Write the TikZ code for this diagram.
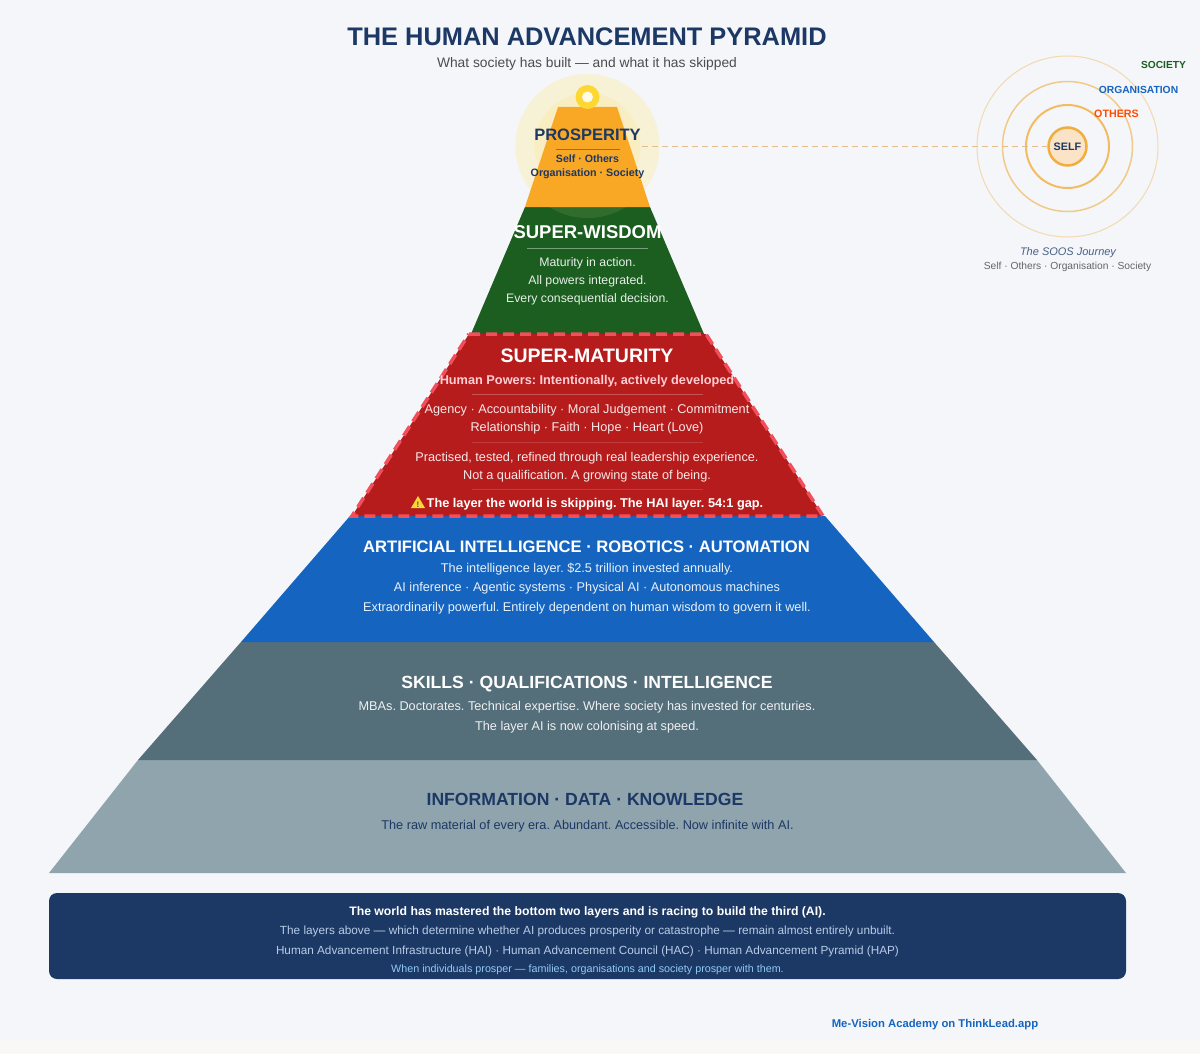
\documentclass[tikz,border=0pt]{standalone}
\usepackage{fontspec}
\setmainfont{Liberation Sans}
\frenchspacing
\definecolor{pagebg}{HTML}{F4F6FA}
\definecolor{stripbg}{HTML}{FAF8F5}
\definecolor{navy}{HTML}{1C3864}
\definecolor{amber}{HTML}{F9A825}
\definecolor{leaf}{HTML}{1B5E20}
\definecolor{crimson}{HTML}{B71C1C}
\definecolor{dashred}{HTML}{F24F5C}
\definecolor{azure}{HTML}{1565C0}
\definecolor{slate}{HTML}{546E7A}
\definecolor{mist}{HTML}{90A4AE}
\definecolor{halo}{HTML}{FFEB99}
\definecolor{sunc}{HTML}{FDD835}
\definecolor{ringc}{HTML}{F2AE3D}
\definecolor{selfc}{HTML}{FAE3C6}
\definecolor{beamc}{HTML}{E3BE8C}
\definecolor{panelb}{HTML}{B8CCE8}
\definecolor{paneld}{HTML}{90CAF9}
\definecolor{pinkc}{HTML}{FFCDD2}
\tikzset{%
  lbl/.style={anchor=base, inner sep=0pt, outer sep=0pt, font=\fontsize{#1}{#1}\selectfont},
  blbl/.style={anchor=base, inner sep=0pt, outer sep=0pt, font=\bfseries\fontsize{#1}{#1}\selectfont},
  rule line/.style={line width=0.8pt},
}

\begin{document}
\begin{tikzpicture}[x=1pt, y=-1pt]
\useasboundingbox (0,0) rectangle (1200,1054);
\fill[pagebg] (0,0) rectangle (1200,1054);
\fill[stripbg] (0,1040) rectangle (1200,1054);

% sun halo goes under the layers
\fill[halo, opacity=0.3] (587.5,146) circle (72);
\fill[halo, opacity=0.3] (587.5,146) circle (53);

% layers, bottom first
\foreach \col/\ya/\xa/\xb/\yb/\xc/\xd in {mist/760/138/1037/873/49/1126,
                                          slate/642/241/934/760/138/1037,
                                          azure/516/350/825/642/241/934,
                                          leaf/207/525/650/334/471/704}
    \fill[\col] (\xa,\ya) -- (\xb,\ya) -- (\xd,\yb) -- (\xc,\yb) -- cycle;
\fill[crimson] (469,334) -- (706,334) -- (823,516) -- (352,516) -- cycle;
\draw[dashred, line width=3.5pt, dash pattern=on 11pt off 6pt] (469,334) -- (706,334) -- (823,516) -- (352,516) -- cycle;

% sun
\fill[halo, opacity=0.1] (587.5,146) circle (72);
\fill[amber] (558,107) -- (617,107) -- (650,207) -- (525,207) -- cycle;
\fill[sunc] (587.5,97) circle (12);
\fill[white!90!sunc] (587.5,97) circle (5.5);

\node[blbl=25.4, text=navy] (title) at (587,46) {THE HUMAN ADVANCEMENT PYRAMID};
\node[lbl=13.8, text=black!70] (subtitle) at (587,68) {What society has built — and what it has skipped};

\node[blbl=16.5, text=navy] (prosperity) at (587.5,141) {PROSPERITY};
\draw[navy, rule line, opacity=0.5] (556,149) -- (620,149);
\node[blbl=10.6, text=navy] (prosp_a) at (587.5,163) {Self · Others};
\node[blbl=10.7, text=navy] (prosp_b) at (587.5,177) {Organisation · Society};

\node[blbl=18.5, text=white] (wisdom) at (587.5,238) {SUPER-WISDOM};
\draw[white, rule line, opacity=0.4] (527,248) -- (648,248);
\node[lbl=12.3, text=white!90!leaf] (wisdom_a) at (587.5,266) {Maturity in action.};
\node[lbl=12.3, text=white!90!leaf] (wisdom_b) at (587.5,284) {All powers integrated.};
\node[lbl=12.3, text=white!90!leaf] (wisdom_c) at (587.5,302) {Every consequential decision.};

\node[blbl=19.5, text=white] (maturity) at (587,362) {SUPER-MATURITY};
\node[blbl=12.75, text=pinkc] (maturity_a) at (587,384) {Human Powers: Intentionally, actively developed};
\draw[white, rule line, opacity=0.25] (472,394) -- (703,394);
\node[lbl=12.7, text=white!90!crimson] (maturity_b) at (587,413) {Agency · Accountability · Moral Judgement · Commitment};
\node[lbl=12.7, text=white!90!crimson] (maturity_c) at (587,431) {Relationship · Faith · Hope · Heart (Love)};
\draw[white, rule line, opacity=0.15] (472,442) -- (703,442);
\node[lbl=12.7, text=white!90!crimson] (maturity_d) at (587,461) {Practised, tested, refined through real leadership experience.};
\node[lbl=12.7, text=white!90!crimson] (maturity_e) at (587,479) {Not a qualification. A growing state of being.};
\draw[white, rule line, opacity=0.15] (472,489) -- (703,489);
\node[blbl=12.75, text=white] (maturity_f) at (595,507) {The layer the world is skipping. The HAI layer. 54:1 gap.};
\fill[sunc] (418,496) -- (425,508) -- (411,508) -- cycle;
\node[blbl=8, text=black!70] (warn) at (418,507) {!};

\node[blbl=16.6, text=white] (ai) at (586.5,552) {ARTIFICIAL INTELLIGENCE · ROBOTICS · AUTOMATION};
\node[lbl=12.7, text=white!90!azure] (ai_a) at (587,572) {The intelligence layer. \$2.5 trillion invested annually.};
\node[lbl=12.7, text=white!90!azure] (ai_b) at (587,591) {AI inference · Agentic systems · Physical AI · Autonomous machines};
\node[lbl=12.7, text=white!90!azure] (ai_c) at (587,611) {Extraordinarily powerful. Entirely dependent on human wisdom to govern it well.};

\node[blbl=17.6, text=white] (skills) at (587,688) {SKILLS · QUALIFICATIONS · INTELLIGENCE};
\node[lbl=12.7, text=white!90!slate] (skills_a) at (587,710) {MBAs. Doctorates. Technical expertise. Where society has invested for centuries.};
\node[lbl=12.7, text=white!90!slate] (skills_b) at (587,730) {The layer AI is now colonising at speed.};

\node[blbl=17.6, text=navy] (info) at (585,805) {INFORMATION · DATA · KNOWLEDGE};
\node[lbl=12.7, text=navy] (info_a) at (587.5,829) {The raw material of every era. Abundant. Accessible. Now infinite with AI.};

% bottom panel
\fill[navy, rounded corners=8pt] (49,893) rectangle (1126,979);
\node[blbl=12.25, text=white] (panel_a) at (587.5,915) {The world has mastered the bottom two layers and is racing to build the third (AI).};
\node[lbl=11.8, text=panelb] (panel_b) at (587.5,934.5) {The layers above — which determine whether AI produces prosperity or catastrophe — remain almost entirely unbuilt.};
\node[lbl=11.75, text=panelb] (panel_c) at (587.5,954.5) {Human Advancement Infrastructure (HAI) · Human Advancement Council (HAC) · Human Advancement Pyramid (HAP)};
\node[lbl=10.75, text=paneld] (panel_d) at (587.5,972) {When individuals prosper — families, organisations and society prosper with them.};
\node[blbl=11.3, text=azure] (footer) at (935,1027) {Me-Vision Academy on ThinkLead.app};

% SOOS rings
\foreach \r/\w/\o in {90.5/1/0.4, 65/1.5/0.6, 41.5/2/0.8}
    \draw[ringc, line width=\w pt, opacity=\o] (1067.5,146.5) circle (\r);
\node[circle, draw=ringc, line width=2.5pt, fill=selfc, minimum size=38pt, inner sep=0pt,
      font=\bfseries\fontsize{10.8}{10.8}\selectfont, text=navy] (self) at (1067.5,146.5) {SELF};
\coordinate (beam) at (642,146.5);
\draw[beamc, line width=0.8pt, dash pattern=on 6pt off 4pt] (beam) -- (self.west);

\node[blbl=10.2, text=leaf] (ring_society) at (1163.5,68.5) {SOCIETY};
\node[blbl=10.3, text=azure] (ring_org) at (1138.5,94) {ORGANISATION};
\node[blbl=10.7, text=orange!60!red] (ring_others) at (1116.5,117.5) {OTHERS};
\node[lbl=11, text=navy!80, font=\itshape\fontsize{11}{11}\selectfont] (soos) at (1068,255) {The SOOS Journey};
\node[lbl=10.25, text=black!60] (soos_a) at (1067.5,269) {Self · Others · Organisation · Society};
\end{tikzpicture}
\end{document}
